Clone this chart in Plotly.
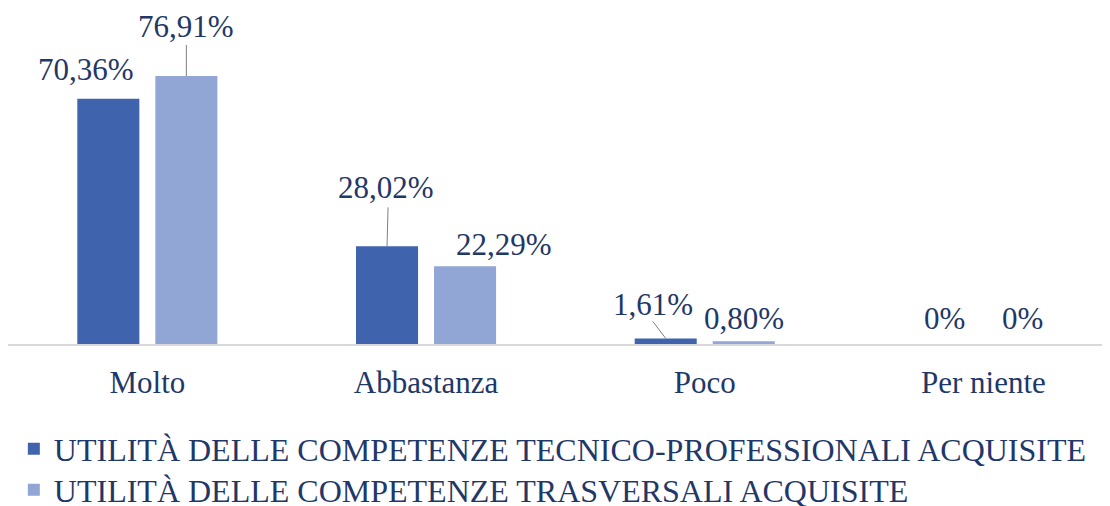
import plotly.graph_objects as go

categories = ["Molto", "Abbastanza", "Poco", "Per niente"]
tecnico = [70.36, 28.02, 1.61, 0.0]
trasversali = [76.91, 22.29, 0.80, 0.0]
tecnico_labels = ["70,36%", "28,02%", "1,61%", "0%"]
trasversali_labels = ["76,91%", "22,29%", "0,80%", "0%"]
series_names = [
    "UTILITÀ DELLE COMPETENZE TECNICO-PROFESSIONALI ACQUISITE",
    "UTILITÀ DELLE COMPETENZE TRASVERSALI ACQUISITE",
]

DARK = "#3F64AD"
LIGHT = "#91A6D5"
TEXT = "#1F3868"
FONT = "Liberation Serif"
BAR_OFFSET = 39  # px from category centre to each bar centre

fig = go.Figure()
fig.add_trace(go.Bar(x=categories, y=tecnico, name=series_names[0],
                     marker=dict(color=DARK, line=dict(width=0)), legend="legend"))
fig.add_trace(go.Bar(x=categories, y=trasversali, name=series_names[1],
                     marker=dict(color=LIGHT, line=dict(width=0)), legend="legend2"))

# label offsets from the bar top (dx, dy up) and optional leader line end (dx, dy up)
dark_pos = [(-22, 29, None), (-1, 59, (1, 39)), (-13, 34, (-13, 17)), (0, 26, None)]
light_pos = [(0, 49, (0, 31)), (39, 22, None), (0, 23, None), (0, 26, None)]

def add_labels(values, labels, positions, offset):
    for i, (v, lab, (dx, dy, leader)) in enumerate(zip(values, labels, positions)):
        fig.add_annotation(x=categories[i], y=v, xshift=offset + dx, yshift=dy,
                           text=lab, showarrow=False, yanchor="middle",
                           font=dict(family=FONT, size=31, color=TEXT))
        if leader:
            fig.add_shape(type="line", xref="x", yref="y",
                          xsizemode="pixel", ysizemode="pixel",
                          xanchor=i, yanchor=v,
                          x0=offset, y0=0, x1=offset + leader[0], y1=leader[1],
                          line=dict(color="#7f7f7f", width=1))

add_labels(tecnico, tecnico_labels, dark_pos, -BAR_OFFSET)
add_labels(trasversali, trasversali_labels, light_pos, BAR_OFFSET)

legend_style = dict(orientation="v", x=0.0053, xanchor="left", yanchor="middle",
                    font=dict(family=FONT, size=32, color=TEXT), bgcolor="rgba(0,0,0,0)")

fig.update_layout(
    width=1102, height=498,
    margin=dict(l=0, r=2, t=22, b=162, autoexpand=False),
    paper_bgcolor="white", plot_bgcolor="white",
    barmode="group", bargap=0.44, bargroupgap=0.205,
    font=dict(family=FONT, color=TEXT),
    showlegend=True,
    legend=dict(legend_style, y=-0.334),
    legend2=dict(legend_style, y=-0.465),
    xaxis=dict(range=[-0.5, 3.447], showline=True, linecolor="#d9d9d9", linewidth=1.5,
               ticks="", showgrid=False, fixedrange=True, ticklabelstandoff=10,
               tickfont=dict(family=FONT, size=31, color=TEXT)),
    yaxis=dict(range=[0, 90.1], visible=False, showgrid=False, fixedrange=True),
)

fig.write_html("out.html")
